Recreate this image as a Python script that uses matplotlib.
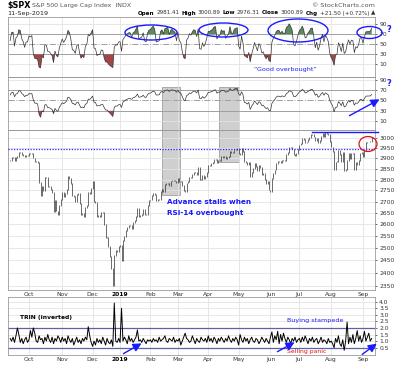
import numpy as np
import matplotlib
matplotlib.use("Agg")
import matplotlib.pyplot as plt
from matplotlib.patches import Ellipse, Rectangle
from matplotlib.ticker import FixedLocator, FixedFormatter, NullLocator

W, H = 400, 365

month_labels = ["Oct", "Nov", "Dec", "2019", "Feb", "Mar", "Apr", "May", "Jun", "Jul", "Aug", "Sep"]
# trading days per month, 12-Sep-2018 .. 11-Sep-2019
month_days = [13, 23, 21, 19, 21, 19, 21, 21, 22, 20, 22, 22, 7]

# closes before the visible window, only used to seed the RSI
warmup_close = [
  2813, 2827, 2840, 2850, 2858, 2857, 2853, 2833, 2821, 2839, 2818, 2840,
  2850, 2857, 2862, 2861, 2856, 2875, 2897, 2898, 2914, 2901, 2902,
  2896, 2888, 2878, 2872, 2877, 2887,
]

spx_close = [
  # Sep 2018
  2888, 2904, 2905, 2888, 2904, 2908, 2930, 2929, 2919, 2915, 2906, 2914, 2914,
  # Oct
  2924, 2923, 2925, 2901, 2885, 2884, 2881, 2785, 2728, 2767, 2750, 2809,
  2809, 2768, 2767, 2755, 2741, 2656, 2705, 2658, 2641, 2682, 2711,
  # Nov
  2740, 2723, 2738, 2756, 2814, 2806, 2781, 2726, 2722, 2702, 2730, 2736,
  2690, 2641, 2649, 2633, 2674, 2682, 2743, 2738, 2760,
  # Dec
  2790, 2700, 2696, 2633, 2637, 2636, 2651, 2650, 2600, 2546, 2546, 2507,
  2467, 2417, 2351, 2468, 2489, 2486, 2507,
  # Jan 2019
  2510, 2448, 2532, 2550, 2574, 2585, 2596, 2596, 2583, 2610, 2616, 2636,
  2671, 2633, 2639, 2643, 2665, 2644, 2641, 2681, 2704,
  # Feb
  2707, 2725, 2738, 2732, 2706, 2708, 2709, 2744, 2753, 2746, 2776, 2780,
  2784, 2774, 2793, 2796, 2794, 2793, 2784,
  # Mar
  2804, 2792, 2789, 2771, 2749, 2743, 2784, 2792, 2811, 2808, 2822, 2833,
  2832, 2824, 2855, 2801, 2798, 2818, 2806, 2815, 2834,
  # Apr
  2867, 2867, 2873, 2879, 2893, 2895, 2878, 2888, 2888, 2907, 2905, 2908,
  2900, 2905, 2908, 2934, 2927, 2926, 2940, 2943, 2946,
  # May
  2924, 2918, 2946, 2932, 2884, 2880, 2871, 2881, 2812, 2834, 2851, 2876,
  2860, 2840, 2865, 2856, 2823, 2826, 2802, 2783, 2789, 2752,
  # Jun
  2744, 2804, 2827, 2844, 2873, 2886, 2885, 2879, 2891, 2887, 2889, 2918,
  2926, 2954, 2950, 2945, 2917, 2914, 2924, 2942,
  # Jul
  2964, 2973, 2996, 2990, 2976, 2979, 2993, 3000, 3014, 3014, 3004, 2985,
  2996, 2977, 2986, 3005, 3019, 3004, 3026, 3021, 3014, 2980,
  # Aug
  2954, 2932, 2845, 2882, 2884, 2938, 2919, 2883, 2926, 2840, 2848, 2889,
  2924, 2900, 2925, 2923, 2847, 2878, 2870, 2888, 2924, 2926,
  # Sep 2019
  2906, 2938, 2977, 2979, 2979, 2980, 3001,
]

trin_inverted = [
  # Sep 2018
  1.2, 1.0, 1.3, 0.9, 1.4, 2.0, 1.5, 0.9, 1.2, 0.8, 1.1, 1.3, 0.9,
  # Oct
  1.1, 1.8, 1.3, 2.0, 1.6, 1.0, 0.9, 1.4, 1.1, 1.2, 0.8, 1.3, 1.0, 1.5,
  1.1, 0.9, 1.3, 0.8, 1.2, 1.0, 1.4, 1.2, 0.9,
  # Nov
  1.3, 1.0, 1.2, 0.8, 1.4, 1.1, 0.9, 1.2, 0.7, 1.0, 1.3, 0.9, 1.1, 0.8,
  1.2, 1.0, 1.3, 1.1, 2.1, 1.4, 0.9,
  # Dec
  0.6, 1.0, 0.7, 1.2, 0.9, 1.1, 0.8, 1.3, 1.0, 0.7, 1.2, 0.9, 0.8, 1.1,
  0.6, 3.9, 1.0, 0.9, 1.2,
  # Jan 2019
  0.9, 3.5, 1.0, 1.3, 1.1, 0.8, 1.4, 1.0, 1.2, 0.9, 1.1, 1.3, 1.85, 1.0,
  1.1, 0.9, 1.2, 1.0, 0.8, 1.1, 1.0,
  # Feb
  1.1, 0.9, 1.2, 1.0, 1.1, 0.9, 1.3, 1.0, 1.1, 1.2, 1.4, 1.0, 0.9, 1.2,
  1.1, 1.0, 1.3, 0.9, 1.1,
  # Mar
  1.0, 1.2, 0.7, 1.0, 1.3, 1.6, 1.2, 1.1, 0.9, 1.0, 1.4, 1.1, 0.8, 1.2,
  1.0, 0.9, 1.3, 1.1, 1.0, 1.2, 0.9,
  # Apr
  1.4, 1.0, 1.2, 0.9, 1.3, 1.1, 0.8, 1.2, 1.0, 1.3, 1.1, 0.9, 1.2, 1.0,
  1.4, 1.1, 0.9, 1.2, 1.0, 1.3, 1.1,
  # May
  0.7, 1.5, 1.1, 0.9, 1.3, 1.0, 1.2, 0.8, 1.1, 1.3, 1.0, 0.9, 1.2, 1.1,
  0.8, 1.0, 1.3, 1.1, 0.9, 1.2, 1.0, 0.8,
  # Jun
  1.3, 1.7, 0.9, 1.4, 1.1, 1.75, 0.8, 1.5, 1.0, 1.6, 1.2, 0.9, 1.3, 1.1,
  0.8, 1.2, 1.0, 1.3, 0.9, 1.1,
  # Jul
  1.2, 0.9, 1.3, 1.0, 1.4, 1.1, 0.8, 1.2, 1.0, 1.3, 0.9, 1.1, 1.2, 0.8,
  1.0, 1.3, 0.9, 1.1, 1.0, 0.8, 1.2, 0.9,
  # Aug
  1.0, 0.8, 0.5, 1.2, 0.9, 1.4, 0.8, 0.6, 1.1, 0.3, 1.0, 2.45, 0.8, 1.3,
  0.9, 1.5, 0.8, 1.2, 1.8, 1.0, 1.4, 0.9,
  # Sep 2019
  1.2, 1.75, 1.0, 1.3, 1.6, 1.0, 1.2,
]

prior_high = 2945
july_high = 3027

GREEN = "#5b8a5b"
RED = "#a04848"
GRID = "#e3e3e3"
LEVEL = "#a0a0a0"
TXT = "#333333"
BLUE = "#1a1aff"


def wilder_rsi(closes, n):
  closes = np.asarray(closes, dtype=float)
  delta = np.diff(closes)
  gain = np.clip(delta, 0, None)
  loss = np.clip(-delta, 0, None)
  out = np.full(len(closes), np.nan)
  avg_g = gain[:n].mean()
  avg_l = loss[:n].mean()
  out[n] = 100 - 100 / (1 + avg_g / avg_l)
  for i in range(n, len(delta)):
    avg_g = (avg_g * (n - 1) + gain[i]) / n
    avg_l = (avg_l * (n - 1) + loss[i]) / n
    out[i + 1] = 100 - 100 / (1 + avg_g / max(avg_l, 1e-9))
  return out


all_close = warmup_close + spx_close
rsi_fast = wilder_rsi(all_close, 5)[len(warmup_close):]
rsi_slow = wilder_rsi(all_close, 14)[len(warmup_close):]

x = np.arange(len(spx_close))
month_starts = np.cumsum(month_days)[:-1]
XLIM = (-1.5, 252.3)

fig = plt.figure(figsize=(W / 100, H / 100), dpi=100)
plt.rcParams["font.family"] = "DejaVu Sans"


def panel(x0, y0, x1, y1, z=1):
  ax = fig.add_axes([x0 / W, 1 - y1 / H, (x1 - x0) / W, (y1 - y0) / H], zorder=z)
  ax.set_facecolor("none")
  return ax


def style(ax, show_months):
  ax.set_xlim(*XLIM)
  ax.yaxis.tick_right()
  ax.tick_params(axis="y", labelsize=4.3, colors=TXT, length=1.5, width=0.5, pad=1.5)
  ax.tick_params(axis="x", labelsize=4.3, colors=TXT, length=0, pad=2)
  for s in ax.spines.values():
    s.set_color("#9a9a9a")
    s.set_linewidth(0.6)
  for m in month_starts:
    ax.axvline(m, color=GRID, lw=0.6, zorder=0)
  ax.xaxis.set_major_locator(FixedLocator(month_starts))
  if show_months:
    ax.xaxis.set_major_formatter(FixedFormatter(month_labels))
    for lab in ax.get_xticklabels():
      if lab.get_text() == "2019":
        lab.set_fontweight("bold")
        lab.set_color("black")
  else:
    ax.set_xticklabels([])


# background layer for the grey "stall" boxes
back = fig.add_axes([0, 0, 1, 1], zorder=0)
back.set_xlim(0, W)
back.set_ylim(H, 0)
back.axis("off")
for bx0, bx1, by1 in [(162, 180, 195), (219, 239, 162)]:
  back.add_patch(Rectangle((bx0, 86.5), bx1 - bx0, by1 - 86.5, facecolor="#cfcfcf",
                           edgecolor="#a0a0a0", lw=0.6))


def rsi_panel(ax, values, ylim):
  style(ax, False)
  ax.set_ylim(*ylim)
  for lv in (10, 90):
    ax.axhline(lv, color=GRID, lw=0.6, zorder=0)
  ax.axhline(70, color=LEVEL, lw=0.7, zorder=1)
  ax.axhline(30, color=LEVEL, lw=0.7, zorder=1)
  ax.axhline(50, color=LEVEL, lw=0.7, ls="-.", zorder=1)
  ax.fill_between(x, values, 70, where=values > 70, interpolate=True, color=GREEN, lw=0, zorder=2)
  ax.fill_between(x, values, 30, where=values < 30, interpolate=True, color=RED, lw=0, zorder=2)
  ax.plot(x, values, color="#333333", lw=0.5, zorder=3)
  ax.set_yticks([10, 30, 50, 70, 90])


ax1 = panel(8, 17, 375, 77)
rsi_panel(ax1, rsi_fast, (-15, 104))

ax2 = panel(8, 77, 375, 129.5)
rsi_panel(ax2, rsi_slow, (-6, 95))

# price panel
ax3 = panel(8, 129.5, 375, 290)
style(ax3, True)
ax3.set_yscale("log")
ax3.set_ylim(2333, 3041)
price_ticks = list(range(2350, 3001, 50))
ax3.yaxis.set_major_locator(FixedLocator(price_ticks))
ax3.yaxis.set_major_formatter(FixedFormatter([str(t) for t in price_ticks]))
ax3.yaxis.set_minor_locator(NullLocator())
for t in price_ticks:
  ax3.axhline(t, color=GRID, lw=0.6, zorder=0)
prev_close = np.r_[warmup_close[-1], spx_close[:-1]]
close = np.asarray(spx_close, dtype=float)
ax3.vlines(x, np.minimum(prev_close, close) - 2, np.maximum(prev_close, close) + 2,
           color="#1a1a1a", lw=0.45, zorder=3)
ax3.axhline(prior_high, color="#2a2aff", lw=0.9, ls=(0, (1, 1.2)), zorder=4)
ax3.plot([209, 254.5], [july_high, july_high], color=BLUE, lw=1.0, clip_on=False, zorder=4)
ax3.tick_params(axis="x", pad=1.5)

# TRIN panel
ax4 = panel(8, 297, 375, 355)
style(ax4, True)
ax4.set_ylim(-0.06, 4.36)
trin_ticks = [0.5, 1.0, 1.5, 2.0, 2.5, 3.0, 3.5, 4.0]
ax4.yaxis.set_major_locator(FixedLocator(trin_ticks))
ax4.yaxis.set_major_formatter(FixedFormatter([f"{t:.1f}" for t in trin_ticks]))
for t in trin_ticks:
  ax4.axhline(t, color=GRID, lw=0.6, zorder=0)
ax4.axhline(2.0, color="#6060a8", lw=0.9, zorder=1)
ax4.axhline(0.5, color="#6060a8", lw=0.9, zorder=1)
ax4.plot(x, trin_inverted, color="black", lw=0.7, zorder=3)
ax4.tick_params(axis="x", pad=1.2)

# annotation layer in pixel coordinates
top = fig.add_axes([0, 0, 1, 1], zorder=10)
top.set_xlim(0, W)
top.set_ylim(H, 0)
top.axis("off")

for cx, cy, ew, eh in [(151, 32.5, 52, 15), (223.5, 30, 49, 14), (298, 30.5, 60, 23), (369.5, 32.5, 25, 12)]:
  top.add_patch(Ellipse((cx, cy), ew, eh, fill=False, edgecolor=BLUE, lw=1.0))
top.add_patch(Ellipse((368, 144), 18, 15, fill=False, edgecolor="#e01010", lw=0.9))

top.text(389, 30, "?", color=BLUE, fontsize=6, fontweight="bold", ha="center", va="center")
top.text(389, 84, "?", color=BLUE, fontsize=6, fontweight="bold", ha="center", va="center")
top.text(285, 69, "\u201cGood overbought\u201d", color=BLUE, fontsize=4.6, ha="center", va="center")
top.text(167, 202, "Advance stalls when", color=BLUE, fontsize=5.2, fontweight="bold", va="center")
top.text(167, 212.5, "RSI-14 overbought", color=BLUE, fontsize=5.2, fontweight="bold", va="center")
top.text(20, 317, "TRIN (inverted)", color="black", fontsize=4.3, fontweight="bold", va="center")
top.text(315, 320.5, "Buying stampede", color=BLUE, fontsize=4.6, ha="center", va="center")
top.text(307, 352, "Selling panic", color="#e01010", fontsize=4.4, ha="center", va="center")

arrow = dict(arrowstyle="-|>,head_length=0.5,head_width=0.25", color=BLUE, lw=1.0)
for (ax0, ay0), (ax1_, ay1) in [((347, 117), (382, 98)), ((121, 355), (144, 342)),
                                ((275, 353), (297, 341)), ((360, 356), (379, 342))]:
  top.annotate("", xy=(ax1_, ay1), xytext=(ax0, ay0), arrowprops=arrow)

# header
top.text(7, 5.5, "$SPX", fontsize=5.8, fontweight="bold", va="center", color="black")
top.text(32, 5.5, "S&P 500 Large Cap Index  INDX", fontsize=4.5, va="center", color="#555555")
top.text(7, 13, "11-Sep-2019", fontsize=4.6, va="center", color="#222222")
top.text(375, 5.5, "\u00a9 StockCharts.com", fontsize=4.6, va="center", ha="right", color="#555555")

pieces = [("Open", True), ("2981.41", False), ("High", True), ("3000.89", False),
          ("Low", True), ("2976.31", False), ("Close", True), ("3000.89", False),
          ("Chg", True), ("+21.50 (+0.72%)", False), ("\u25b2", False)]
renderer = fig.canvas.get_renderer()
head_x0, head_x1 = 138, 373


def lay_header(fs, draw):
  xpos = head_x0
  for s, bold in pieces:
    t = top.text(xpos, 13, s, fontsize=fs, fontweight="bold" if bold else "normal",
                 va="center", color="black" if bold else "#333333")
    w = t.get_window_extent(renderer).width
    if not draw:
      t.remove()
    xpos += w + 1.8
  return xpos - 1.8 - head_x0


span = lay_header(4.6, False)
lay_header(4.6 * (head_x1 - head_x0) / span, True)

fig.savefig("out.png", dpi=100)
